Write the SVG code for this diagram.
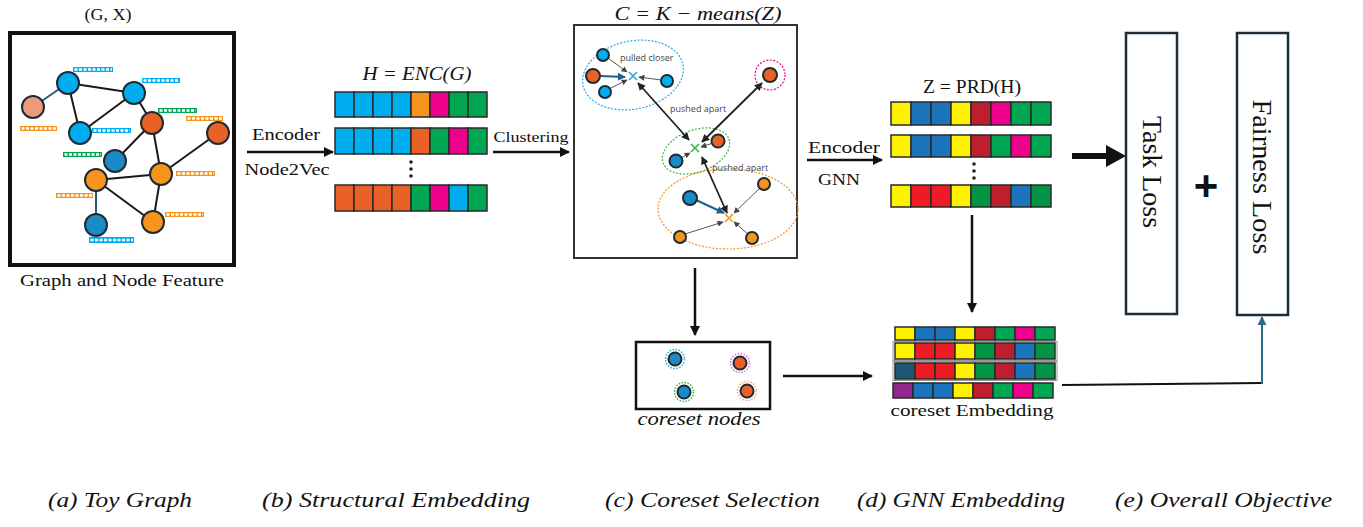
<svg xmlns="http://www.w3.org/2000/svg" width="1363" height="527" viewBox="0 0 1363 527">
<style>
.serif{font-family:"Liberation Serif","Times New Roman",serif;fill:#111}
.it{font-family:"Liberation Serif","Times New Roman",serif;font-style:italic;fill:#111}
.small{font-family:"Open Sans","Liberation Sans",sans-serif;font-size:9px;fill:#444}
.edge{stroke:#1a1a1a;stroke-width:2;fill:none}
.edgeb{stroke:#2b5d78;stroke-width:2;fill:none}
.nd{stroke:#1f2a33;stroke-width:2}
.cell{stroke:#2a2a2a;stroke-width:1.5}
.arr{stroke:#111;stroke-width:2.5;fill:none}
.thin{stroke:#555;stroke-width:1;fill:none}
.tk{stroke:#1f5f8b;stroke-width:2;fill:none}
.dbl{stroke:#222;stroke-width:1.8;fill:none}
.blu{fill:#00aeef}.org{fill:#f7941d}.red{fill:#ea6127}.grn{fill:#00a651}.mag{fill:#ec008c}
.yel{fill:#fff200}.mb{fill:#1c75bc}.dr{fill:#be1e2d}.rr{fill:#ed1c24}.dg{fill:#009444}.tl{fill:#1d5775}.pur{fill:#92278f}
</style>
<defs>
<marker id="ah" viewBox="0 0 10 10" refX="9" refY="5" markerWidth="10" markerHeight="10" markerUnits="userSpaceOnUse" orient="auto"><path d="M0,0 L10,5 L0,10 Z" fill="#111"/></marker>
<marker id="ahs" viewBox="0 0 10 10" refX="9" refY="5" markerWidth="6" markerHeight="6" markerUnits="userSpaceOnUse" orient="auto"><path d="M0,0 L10,5 L0,10 Z" fill="#444"/></marker>
<marker id="ahd" viewBox="0 0 10 10" refX="9" refY="5" markerWidth="8" markerHeight="8" markerUnits="userSpaceOnUse" orient="auto-start-reverse"><path d="M0,0 L10,5 L0,10 Z" fill="#222"/></marker>
<marker id="aht" viewBox="0 0 10 10" refX="9" refY="5" markerWidth="8" markerHeight="8" markerUnits="userSpaceOnUse" orient="auto"><path d="M0,0 L10,5 L0,10 Z" fill="#1f5f8b"/></marker>
<marker id="ahteal" viewBox="0 0 10 10" refX="9" refY="5" markerWidth="9" markerHeight="9" markerUnits="userSpaceOnUse" orient="auto"><path d="M0,0 L10,5 L0,10 Z" fill="#2b6a8a"/></marker>
</defs>

<!-- (a) Toy graph -->
<g id="toy-graph">
<text class="serif" x="108" y="20" font-size="17" text-anchor="middle" textLength="47" lengthAdjust="spacingAndGlyphs">(G, X)</text>
<rect x="10" y="33" width="224" height="232" fill="#fff" stroke="#111" stroke-width="4"/>
<path class="edgeb" d="M68,83 L33,107 M96,180 L96,225"/>
<path class="edge" d="M68,83 L134,93 M68,83 L80,133 M134,93 L80,133 M134,93 L152,123 M152,123 L115,161 M152,123 L161,174 M161,174 L218,133 M161,174 L96,180 M96,180 L153,222 M161,174 L153,222"/>
<g stroke-width="0">
<rect x="73" y="67" width="40" height="5" class="blu"/>
<rect x="142" y="78" width="38" height="5" class="blu"/>
<rect x="158" y="108" width="39" height="5" class="grn"/>
<rect x="186" y="116" width="37" height="5" class="org"/>
<rect x="20" y="126" width="37" height="5" class="org"/>
<rect x="92" y="128" width="39" height="5" class="blu"/>
<rect x="63" y="152" width="39" height="5" class="grn"/>
<rect x="176" y="171" width="39" height="5" class="org"/>
<rect x="56" y="193" width="37" height="5" class="org"/>
<rect x="165" y="212" width="39" height="5" class="org"/>
<rect x="89" y="237" width="45" height="6" class="blu"/>
</g>
<g stroke="#fff" stroke-width="2.4" stroke-dasharray="3 1.5">
<line x1="74.5" y1="69.5" x2="112" y2="69.5"/>
<line x1="143.5" y1="80.5" x2="179" y2="80.5"/>
<line x1="159.5" y1="110.5" x2="196" y2="110.5"/>
<line x1="187.5" y1="118.5" x2="222" y2="118.5"/>
<line x1="21.5" y1="128.5" x2="56" y2="128.5"/>
<line x1="93.5" y1="130.5" x2="130" y2="130.5"/>
<line x1="64.5" y1="154.5" x2="101" y2="154.5"/>
<line x1="177.5" y1="173.5" x2="214" y2="173.5"/>
<line x1="57.5" y1="195.5" x2="92" y2="195.5"/>
<line x1="166.5" y1="214.5" x2="203" y2="214.5"/>
<line x1="90.5" y1="240" x2="133" y2="240"/>
</g>
<circle cx="68" cy="83" r="11" class="nd blu"/>
<circle cx="33" cy="107" r="11" class="nd" fill="#ec9a7a"/>
<circle cx="134" cy="93" r="11" class="nd blu"/>
<circle cx="80" cy="133" r="11" class="nd blu"/>
<circle cx="152" cy="123" r="11" class="nd red"/>
<circle cx="218" cy="133" r="11" class="nd red" stroke-width="2.5"/>
<circle cx="115" cy="161" r="11" class="nd" fill="#1b8bc6"/>
<circle cx="161" cy="174" r="11" class="nd org"/>
<circle cx="96" cy="180" r="11" class="nd org"/>
<circle cx="96" cy="225" r="11" class="nd" fill="#1b8bc6"/>
<circle cx="153" cy="222" r="11" class="nd org"/>
<text class="serif" x="122" y="286" font-size="17" text-anchor="middle" textLength="204" lengthAdjust="spacingAndGlyphs">Graph and Node Feature</text>
</g>

<!-- (b) Structural embedding -->
<g id="structural-embedding">
<text class="it" x="417" y="80" font-size="19" text-anchor="middle" textLength="109" lengthAdjust="spacingAndGlyphs">H = ENC(G)</text>
<g class="cell">
<rect x="335" y="92" width="19" height="25" class="blu"/><rect x="354" y="92" width="19" height="25" class="blu"/><rect x="373" y="92" width="19" height="25" class="blu"/><rect x="392" y="92" width="19" height="25" class="blu"/><rect x="411" y="92" width="19" height="25" class="org"/><rect x="430" y="92" width="19" height="25" class="mag"/><rect x="449" y="92" width="19" height="25" class="grn"/><rect x="468" y="92" width="19" height="25" class="grn"/>
<rect x="335" y="128" width="19" height="26" class="blu"/><rect x="354" y="128" width="19" height="26" class="blu"/><rect x="373" y="128" width="19" height="26" class="blu"/><rect x="392" y="128" width="19" height="26" class="blu"/><rect x="411" y="128" width="19" height="26" class="red"/><rect x="430" y="128" width="19" height="26" class="grn"/><rect x="449" y="128" width="19" height="26" class="mag"/><rect x="468" y="128" width="19" height="26" class="grn"/>
<rect x="335" y="185" width="19" height="26" class="red"/><rect x="354" y="185" width="19" height="26" class="red"/><rect x="373" y="185" width="19" height="26" class="red"/><rect x="392" y="185" width="19" height="26" class="red"/><rect x="411" y="185" width="19" height="26" class="grn"/><rect x="430" y="185" width="19" height="26" class="mag"/><rect x="449" y="185" width="19" height="26" class="blu"/><rect x="468" y="185" width="19" height="26" class="grn"/>
</g>
<circle cx="411" cy="162" r="1.8" fill="#222"/><circle cx="411" cy="169" r="1.8" fill="#222"/><circle cx="411" cy="176" r="1.8" fill="#222"/>
</g>

<!-- (c) Coreset selection -->
<g id="clustering">
<text class="it" x="698" y="20" font-size="19" text-anchor="middle" textLength="167" lengthAdjust="spacingAndGlyphs">C = K − means(Z)</text>
<rect x="574" y="25" width="223" height="233" fill="#fff" stroke="#333" stroke-width="2"/>
<ellipse cx="633" cy="75" rx="51" ry="34" transform="rotate(-12 633 75)" fill="none" stroke="#29abe2" stroke-width="1.2" stroke-dasharray="2 1.5"/>
<circle cx="770" cy="75" r="15" fill="none" stroke="#ec008c" stroke-width="1.2" stroke-dasharray="2 1.5"/>
<ellipse cx="696" cy="151" rx="35" ry="21" transform="rotate(-20 696 151)" fill="none" stroke="#39b54a" stroke-width="1.2" stroke-dasharray="2 1.5"/>
<ellipse cx="728" cy="209" rx="70" ry="40" fill="none" stroke="#f7941d" stroke-width="1.2" stroke-dasharray="2 1.5"/>
<text class="small" x="620" y="61">pulled closer</text>
<text class="small" x="670" y="112">pushed apart</text>
<text class="small" x="712" y="171">pushed apart</text>
<path class="thin" marker-end="url(#ahs)" d="M608,58 L627,72"/>
<path class="thin" marker-end="url(#ahs)" d="M609,89 L627,80"/>
<path class="thin" marker-end="url(#ahs)" d="M661,80 L639,77"/>
<path class="thin" marker-end="url(#ahs)" d="M713,143 L701,147"/>
<path class="thin" marker-end="url(#ahs)" d="M681,158 L690,153"/>
<path class="thin" marker-end="url(#ahs)" d="M760,188 L734,213"/>
<path class="thin" marker-end="url(#ahs)" d="M685,234 L723,222"/>
<path class="thin" marker-end="url(#ahs)" d="M748,234 L734,222"/>
<path class="tk" marker-end="url(#aht)" d="M600,76 L625,77"/>
<path class="tk" marker-end="url(#aht)" d="M696,200 L724,213"/>
<path class="dbl" marker-start="url(#ahd)" marker-end="url(#ahd)" d="M638,83 L689,140"/>
<path class="dbl" marker-start="url(#ahd)" marker-end="url(#ahd)" d="M762,83 L702,142"/>
<path class="dbl" marker-start="url(#ahd)" marker-end="url(#ahd)" d="M702,157 L727,213"/>
<path stroke="#29abe2" stroke-width="1.6" d="M629,72 L637,80 M637,72 L629,80"/>
<path stroke="#39b54a" stroke-width="1.6" d="M691,144 L699,152 M699,144 L691,152"/>
<path stroke="#f7941d" stroke-width="1.6" d="M725,214 L733,222 M733,214 L725,222"/>
<g class="nd" stroke-width="1.5">
<circle cx="603" cy="55" r="6" class="blu"/>
<circle cx="593" cy="76" r="7" class="red"/>
<circle cx="605" cy="92" r="6" class="blu"/>
<circle cx="667" cy="81" r="6" class="blu"/>
<circle cx="770" cy="75" r="7" class="red"/>
<circle cx="718" cy="141" r="6.5" class="red"/>
<circle cx="676" cy="161" r="6.5" fill="#1b8bc6"/>
<circle cx="690" cy="198" r="7" fill="#1b8bc6"/>
<circle cx="764" cy="184" r="6" class="org"/>
<circle cx="680" cy="237" r="6" class="org"/>
<circle cx="752" cy="238" r="6" class="org"/>
</g>
</g>

<g id="coreset-nodes">
<rect x="636" y="342" width="134" height="67" fill="#fff" stroke="#111" stroke-width="2.5"/>
<g fill="none" stroke-width="1.5" stroke-dasharray="1.5 1.5">
<circle cx="675" cy="359" r="9.5" stroke="#29abe2"/>
<circle cx="740" cy="363" r="9.5" stroke="#da70d6"/>
<circle cx="684" cy="392" r="9.5" stroke="#39b54a"/>
<circle cx="747" cy="391" r="9.5" stroke="#f4a582"/>
</g>
<g class="nd" stroke-width="1.5">
<circle cx="675" cy="359" r="6.5" fill="#1b8bc6"/>
<circle cx="740" cy="363" r="6.5" class="red"/>
<circle cx="684" cy="392" r="6.5" fill="#1b8bc6"/>
<circle cx="747" cy="391" r="6.5" class="red"/>
</g>
<text class="it" x="699" y="425" font-size="18" text-anchor="middle" textLength="123" lengthAdjust="spacingAndGlyphs">coreset nodes</text>
</g>

<!-- (d) GNN embedding -->
<g id="gnn-embedding">
<text class="serif" x="972" y="93" font-size="19" text-anchor="middle" textLength="98" lengthAdjust="spacingAndGlyphs">Z = PRD(H)</text>
<g class="cell">
<rect x="891" y="102" width="20" height="23" class="yel"/><rect x="911" y="102" width="20" height="23" class="mb"/><rect x="931" y="102" width="20" height="23" class="mb"/><rect x="951" y="102" width="20" height="23" class="yel"/><rect x="971" y="102" width="20" height="23" class="dr"/><rect x="991" y="102" width="20" height="23" class="mag"/><rect x="1011" y="102" width="20" height="23" class="grn"/><rect x="1031" y="102" width="20" height="23" class="grn"/>
<rect x="891" y="135" width="20" height="22" class="yel"/><rect x="911" y="135" width="20" height="22" class="mb"/><rect x="931" y="135" width="20" height="22" class="mb"/><rect x="951" y="135" width="20" height="22" class="yel"/><rect x="971" y="135" width="20" height="22" class="dr"/><rect x="991" y="135" width="20" height="22" class="grn"/><rect x="1011" y="135" width="20" height="22" class="mag"/><rect x="1031" y="135" width="20" height="22" class="grn"/>
<rect x="891" y="185" width="20" height="22" class="yel"/><rect x="911" y="185" width="20" height="22" class="rr"/><rect x="931" y="185" width="20" height="22" class="rr"/><rect x="951" y="185" width="20" height="22" class="yel"/><rect x="971" y="185" width="20" height="22" class="dg"/><rect x="991" y="185" width="20" height="22" class="dr"/><rect x="1011" y="185" width="20" height="22" class="mb"/><rect x="1031" y="185" width="20" height="22" class="dg"/>
</g>
<circle cx="974" cy="164" r="1.8" fill="#222"/><circle cx="974" cy="171" r="1.8" fill="#222"/><circle cx="974" cy="178" r="1.8" fill="#222"/>
</g>

<g id="coreset-embedding">
<rect x="893" y="341.5" width="164" height="19" fill="none" stroke="#999" stroke-width="1"/>
<rect x="893" y="361.5" width="164" height="19" fill="none" stroke="#999" stroke-width="1"/>
<g class="cell" stroke-width="1.3">
<rect x="895" y="327" width="20" height="13" class="yel"/><rect x="915" y="327" width="20" height="13" class="mb"/><rect x="935" y="327" width="20" height="13" class="mb"/><rect x="955" y="327" width="20" height="13" class="yel"/><rect x="975" y="327" width="20" height="13" class="dr"/><rect x="995" y="327" width="20" height="13" class="grn"/><rect x="1015" y="327" width="20" height="13" class="mag"/><rect x="1035" y="327" width="20" height="13" class="grn"/>
<rect x="895" y="343" width="20" height="16" class="yel"/><rect x="915" y="343" width="20" height="16" class="rr"/><rect x="935" y="343" width="20" height="16" class="rr"/><rect x="955" y="343" width="20" height="16" class="yel"/><rect x="975" y="343" width="20" height="16" class="dg"/><rect x="995" y="343" width="20" height="16" class="dr"/><rect x="1015" y="343" width="20" height="16" class="mb"/><rect x="1035" y="343" width="20" height="16" class="dg"/>
<rect x="895" y="363" width="20" height="16" class="tl"/><rect x="915" y="363" width="20" height="16" class="rr"/><rect x="935" y="363" width="20" height="16" class="rr"/><rect x="955" y="363" width="20" height="16" class="yel"/><rect x="975" y="363" width="20" height="16" class="dg"/><rect x="995" y="363" width="20" height="16" class="dr"/><rect x="1015" y="363" width="20" height="16" class="mb"/><rect x="1035" y="363" width="20" height="16" class="dg"/>
<rect x="893" y="383" width="20" height="15" class="pur"/><rect x="913" y="383" width="20" height="15" class="mb"/><rect x="933" y="383" width="20" height="15" class="mb"/><rect x="953" y="383" width="20" height="15" class="yel"/><rect x="973" y="383" width="20" height="15" class="dr"/><rect x="993" y="383" width="20" height="15" class="grn"/><rect x="1013" y="383" width="20" height="15" class="mag"/><rect x="1033" y="383" width="20" height="15" class="grn"/>
</g>
<text class="serif" x="972" y="416" font-size="17" text-anchor="middle" textLength="163" lengthAdjust="spacingAndGlyphs">coreset Embedding</text>
</g>

<!-- (e) Overall objective -->
<g id="task-loss">
<rect x="1126" y="33" width="51" height="281" fill="#fff" stroke="#1c2e3a" stroke-width="2.5"/>
<text class="serif" transform="translate(1152,172) rotate(90)" x="0" y="9" font-size="27" text-anchor="middle" textLength="112" lengthAdjust="spacingAndGlyphs">Task Loss</text>
</g>
<g id="plus">
<text x="1206" y="200" font-family="Liberation Sans, Arial, sans-serif" font-weight="bold" font-size="42" text-anchor="middle" fill="#111">+</text>
</g>
<g id="fairness-loss">
<rect x="1237" y="33" width="51" height="282" fill="#fff" stroke="#1c2e3a" stroke-width="2.5"/>
<text class="serif" transform="translate(1262,177) rotate(90)" x="0" y="9" font-size="27" text-anchor="middle" textLength="155" lengthAdjust="spacingAndGlyphs">Fairness Loss</text>
</g>

<!-- connectors -->
<g id="connectors">
<line class="arr" x1="247" y1="152" x2="333" y2="152" marker-end="url(#ah)"/>
<text class="serif" x="286" y="140" font-size="17" text-anchor="middle" textLength="68" lengthAdjust="spacingAndGlyphs">Encoder</text>
<text class="serif" x="287" y="175" font-size="17" text-anchor="middle" textLength="85" lengthAdjust="spacingAndGlyphs">Node2Vec</text>
<line class="arr" x1="493" y1="152" x2="569" y2="152" stroke-width="3" marker-end="url(#ah)"/>
<text class="serif" x="531" y="142" font-size="15" text-anchor="middle" textLength="75" lengthAdjust="spacingAndGlyphs">Clustering</text>
<line class="arr" x1="807" y1="160" x2="882" y2="160" marker-end="url(#ah)"/>
<text class="serif" x="844" y="153" font-size="17" text-anchor="middle" textLength="72" lengthAdjust="spacingAndGlyphs">Encoder</text>
<text class="serif" x="839" y="185" font-size="17" text-anchor="middle" textLength="42" lengthAdjust="spacingAndGlyphs">GNN</text>
<line class="arr" x1="695" y1="268" x2="695" y2="335" marker-end="url(#ah)"/>
<line class="arr" x1="972" y1="215" x2="972" y2="312" marker-end="url(#ah)"/>
<line class="arr" x1="783" y1="376" x2="872" y2="376" marker-end="url(#ah)"/>
<line stroke="#111" stroke-width="6" x1="1072" y1="156" x2="1110" y2="156"/>
<path d="M1106,145 L1126,156 L1106,167 Z" fill="#111"/>
<path d="M1062,385 L1262,383" stroke="#111" stroke-width="2" fill="none"/>
<path d="M1262,384 L1262,317" stroke="#2b6a8a" stroke-width="2" fill="none" marker-end="url(#ahteal)"/>
</g>

<!-- bottom captions -->
<g id="captions">
<text class="it" x="48" y="507" font-size="20" textLength="144" lengthAdjust="spacingAndGlyphs">(a) Toy Graph</text>
<text class="it" x="262" y="507" font-size="20" textLength="268" lengthAdjust="spacingAndGlyphs">(b) Structural Embedding</text>
<text class="it" x="605" y="507" font-size="20" textLength="215" lengthAdjust="spacingAndGlyphs">(c) Coreset Selection</text>
<text class="it" x="857" y="507" font-size="20" textLength="208" lengthAdjust="spacingAndGlyphs">(d) GNN Embedding</text>
<text class="it" x="1115" y="507" font-size="20" textLength="217" lengthAdjust="spacingAndGlyphs">(e) Overall Objective</text>
</g>
</svg>
